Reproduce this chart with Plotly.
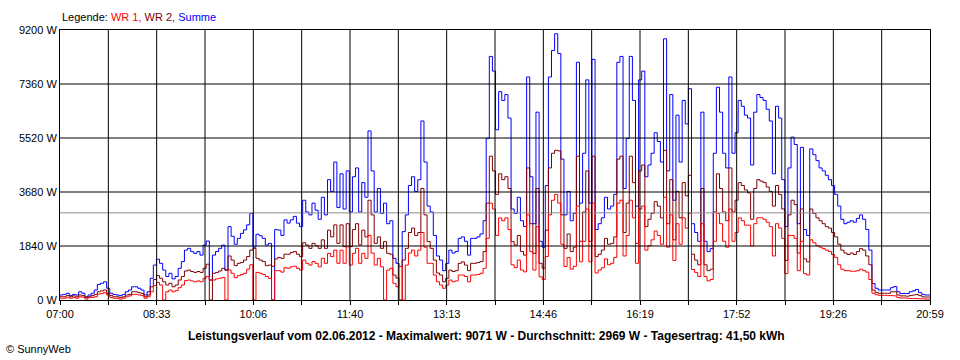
import plotly.graph_objects as go

# minutes after 07:00, 3-minute samples plus final point at 20:59
MINUTES = list(range(0, 840, 3)) + [839]

SUMME = [
    170,190,230,150,190,170,280,230,110,170, 230,340,530,570,620,400,230,190,170,150,
    190,280,340,450,450,400,340,170,280,740, 1190,1390,1250,1020,800,910,720,800,1080,1310,
    1700,1760,1650,1590,1650,1530,1870,2010,680,1530, 1650,1760,1870,1020,2500,2170,
    1900,2100,2270,2390,2560,2950,1800,2240,2190,2100, 1870,1930,0,2400,2380,2200,2730,2620,2730,2850,
    2620,2500,3400,3000,2900,3300,3060,2750,3500,2900, 4100,3700,4700,3150,4300,3100,4400,3000,4200,4500,
    3000,4000,3500,5760,4400,3000,3800,2950,3300,2600, 2700,1420,1250,1140,2330,2900,
    3900,4200,3700,4100,6100,4700,3200,3000,2200,1500, 1360,1000,1250,1700,1600,1650,2100,2150,2000,1530,
    2100,2100,2150,2250,2700,5500,8300,7800,5800,7100, 6800,7000,6200,3100,2950,3500,2700,2500,7600,4200,
    2600,6400,2000,1800,3900,7600,8500,9071,8400,4800, 2900,3700,2700,2950,8100,3300,
    5000,7500,3300,8200,2400,2600,2800,3500,3100,3200, 3600,8100,8300,3800,5500,8300,6800,3200,7500,7800,
    4200,4600,5000,5700,5400,4700,8900,4400,7000,3400, 6300,4700,6800,6000,7200,2600,2300,2000,6400,2000,
    1650,1750,5000,7250,6400,5000,4500,7600,5000,5700, 6800,6600,6300,6200,4600,6400,
    7000,6900,6800,6500,6100,4300,6600,6200,4100,2500, 4500,5550,5300,2600,5200,2400,2200,5150,4950,4750,
    4500,4400,4250,4100,3900,3600,3200,2750,2600,2650, 2700,2650,2780,2900,2750,2400,1700,560,400,340,
    340,340,340,420,460,280,220,220,220,280, 310,360,250,190,170,170,
    170,
]

WR2 = [
    110,110,150,110,140,110,170,150,80,110, 150,190,280,310,340,230,150,110,110,90,
    110,170,190,280,280,250,220,110,170,450, 700,830,740,620,510,570,450,510,680,800,
    990,1020,970,940,970,940,1080,1220,0,910, 940,990,1080,1020,1500,1360,
    1170,1250,1280,1360,1480,1700,1760,1420,1360,1310, 1170,1190,1150,1400,1450,1420,1560,1560,1620,1650,
    1560,1480,1950,1870,1760,1930,1850,1760,2050,1760, 2380,2150,2560,1930,2560,1820,2600,1820,2400,2600,
    1880,2380,2150,3400,2900,1930,2150,1760,1990,1590, 1560,850,750,0,1360,1760,
    2300,2450,2200,2300,3800,2900,1990,1760,1360,920, 850,620,740,1020,970,1000,1250,1300,1190,1000,
    1250,1250,1280,1310,1650,3300,4900,4400,3600,4300, 4100,4200,3800,1990,1870,2200,1650,1530,4500,2600,
    1590,3800,1250,1080,2380,4500,5000,5100,5080,2900, 1760,2250,1650,1800,4900,2000,
    3000,4400,2000,4900,1480,1560,1700,2100,1900,1930, 2150,4800,4900,2300,3300,4900,4000,1930,4400,4600,
    2500,2750,2950,3350,3200,2800,5100,2600,4100,2050, 3700,2800,4000,3550,4250,1560,1360,1200,3800,1200,
    1000,1050,3000,4300,3800,3000,2700,4500,3000,3400, 4000,3900,3750,3650,2750,3800,
    4100,4050,4000,3850,3700,3200,3900,3600,3100,1350, 2900,3400,3250,1600,3100,1400,1300,3100,2950,2800,
    2700,2600,2500,2450,2300,2150,1900,1700,1600,1550, 1600,1550,1650,1750,1700,1500,1200,340,260,230,
    230,230,230,280,280,170,140,140,130,150, 170,190,150,110,100,100,
    100,
]

WR1 = [
    60,60,80,60,80,60,110,100,30,80, 90,110,200,220,250,170,80,60,60,30,
    60,110,140,190,190,170,150,60,110,280, 490,600,510,0,280,340,280,320,420,510,
    660,680,650,620,650,620,740,800,680,680, 720,740,770,0,1020,910,
    760,830,870,910,1050,1200,0,940,910,870, 800,740,0,1000,1000,950,1100,1080,1130,1150,
    1080,1020,1360,1250,1190,1310,1250,1130,1420,1250, 1590,1480,1700,1250,1700,1250,1810,1190,1590,1760,
    1250,1590,1420,2200,1600,1190,1420,1130,0,1020, 1080,570,450,1140,0,1190,
    1600,1700,1500,1700,2300,1800,1250,1250,850,620, 510,400,510,680,620,650,850,850,800,620,
    850,850,870,910,1080,2100,3300,3100,2200,2800, 2700,2800,2400,1200,1100,1360,1020,960,2900,1650,
    1020,2500,790,700,1480,2900,3400,3600,3300,1900, 1140,1450,1050,1150,3200,1300,
    2000,3100,1300,3300,920,1020,1100,1400,1200,1250, 1450,3300,3400,1500,2200,3400,2800,1250,3100,3200,
    1700,1850,2050,2350,2200,1900,3500,1800,2900,1350, 2600,1900,2800,2450,2950,1040,940,800,2600,800,
    650,700,2000,2950,2600,2000,1800,3100,2000,2300, 2800,2700,2550,2550,1850,2600,
    2800,2800,2750,2650,2500,1500,2600,2450,2100,900, 2200,2200,2100,1000,2000,900,850,2050,1950,1850,
    1800,1750,1700,1650,1550,1450,1200,1050,1000,1000, 980,980,1000,1050,1000,950,700,230,180,160,
    160,160,150,150,140,80,70,70,60,50, 50,50,40,40,30,30,
    30,
]

AVERAGE = 2969
Y_TICKS = [0, 1840, 3680, 5520, 7360, 9200]
Y_LABELS = ["0 W", "1840 W", "3680 W", "5520 W", "7360 W", "9200 W"]
X_LABELS = ["07:00", "08:33", "10:06", "11:40", "13:13", "14:46", "16:19", "17:52", "19:26", "20:59"]
X_END = 839
N_DIV = 18

x_ticks = [k * X_END / N_DIV for k in range(N_DIV + 1)]
x_text = [X_LABELS[k // 2] if k % 2 == 0 else "" for k in range(N_DIV + 1)]

FONT = "Liberation Sans, Arial, sans-serif"

fig = go.Figure()
fig.add_trace(go.Scatter(x=MINUTES, y=SUMME, mode="lines", line=dict(color="#0000FF", width=1, shape="hv"), name="Summe"))
fig.add_trace(go.Scatter(x=MINUTES, y=WR2, mode="lines", line=dict(color="#800000", width=1, shape="hv"), name="WR 2"))
fig.add_trace(go.Scatter(x=MINUTES, y=WR1, mode="lines", line=dict(color="#FF0000", width=1, shape="hv"), name="WR 1"))

shapes = [dict(type="line", xref="paper", yref="y", x0=0, x1=1, y0=AVERAGE, y1=AVERAGE,
               line=dict(color="#8C8C8C", width=1), layer="above")]
for xv in x_ticks[1:-1]:
    shapes.append(dict(type="line", xref="x", yref="paper", x0=xv, x1=xv, y0=0, y1=1,
                       line=dict(color="black", width=1), layer="above"))
for yv in Y_TICKS[1:-1]:
    shapes.append(dict(type="line", xref="paper", yref="y", x0=0, x1=1, y0=yv, y1=yv,
                       line=dict(color="black", width=1), layer="above"))

fig.update_layout(
    width=960, height=360,
    margin=dict(l=60, r=30, t=30, b=60),
    paper_bgcolor="white", plot_bgcolor="white",
    showlegend=False,
    font=dict(family=FONT, size=11, color="black"),
    shapes=shapes,
    xaxis=dict(range=[0, X_END], tickvals=x_ticks, ticktext=x_text, showgrid=False, zeroline=False,
               ticks="outside", ticklen=4, tickcolor="black", tickwidth=1,
               showline=True, linecolor="black", linewidth=1, mirror=True,
               tickfont=dict(family=FONT, size=11)),
    yaxis=dict(range=[0, 9200], tickvals=Y_TICKS, ticktext=Y_LABELS, showgrid=False, zeroline=False,
               ticks="", showline=True, linecolor="black", linewidth=1, mirror=True,
               tickfont=dict(family=FONT, size=11)),
    annotations=[
        dict(xref="paper", yref="paper", x=0, y=(300 - 17) / 270, xanchor="left", yanchor="middle",
             showarrow=False, font=dict(family=FONT, size=11),
             text='Legende: <span style="color:#FF0000">WR 1,</span> <span style="color:#800000">WR 2,</span> <span style="color:#0000FF">Summe</span>'),
        dict(xref="paper", yref="paper", x=(486 - 60) / 870, y=(300 - 336) / 270, xanchor="center", yanchor="middle",
             showarrow=False, font=dict(family=FONT, size=12),
             text="<b>Leistungsverlauf vom 02.06.2012 - Maximalwert: 9071 W - Durchschnitt: 2969 W - Tagesertrag: 41,50 kWh</b>"),
        dict(xref="paper", yref="paper", x=(4 - 60) / 870, y=(300 - 349) / 270, xanchor="left", yanchor="middle",
             showarrow=False, font=dict(family=FONT, size=11), text="© SunnyWeb"),
    ],
)

fig.write_html("out.html", config={"displayModeBar": False},
               post_script="document.body.style.margin='0';document.body.style.padding='0';")
